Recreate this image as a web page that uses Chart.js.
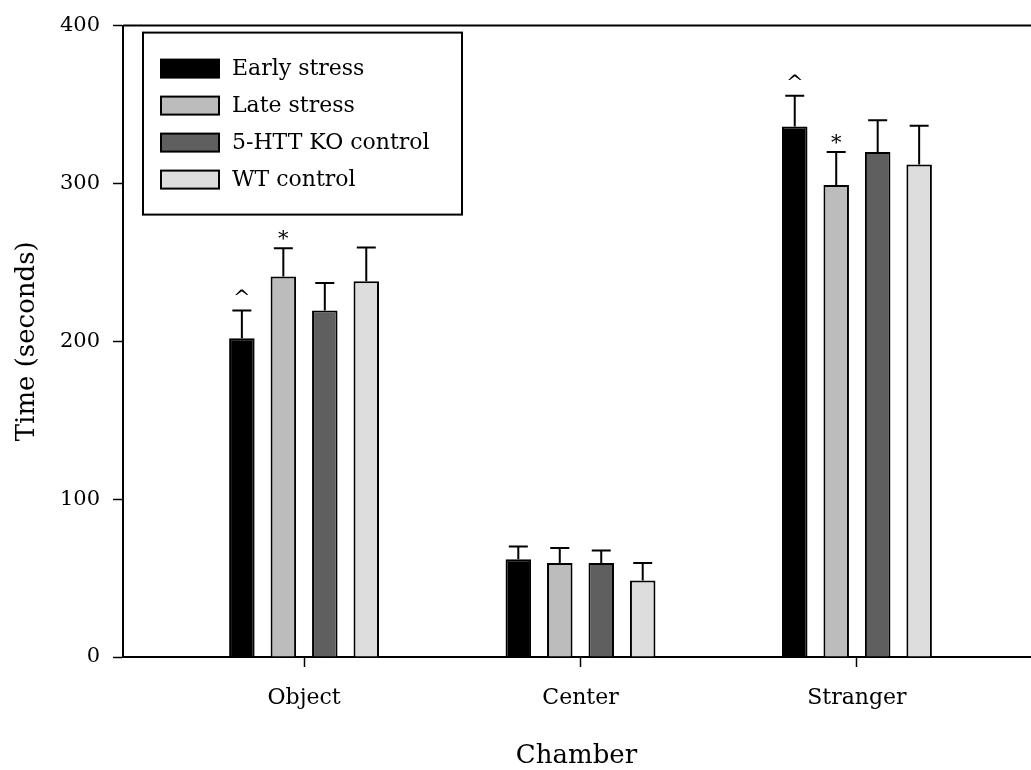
<!DOCTYPE html>
<html>
<head>
<meta charset="utf-8">
<script src="https://cdn.jsdelivr.net/npm/chart.js@4/dist/chart.umd.min.js"></script>
<style>
  body { margin: 0; background: #fff; }
  #wrap { width: 1031px; height: 770px; position: relative; }
</style>
</head>
<body>
<div id="wrap"><canvas id="chart"></canvas></div>
<script>
// chamber categories (x axis)
var chambers = ["Object", "Center", "Stranger"];

// mean time in each chamber (seconds)
var earlyStress = [202, 62, 336];
var lateStress = [241, 59.5, 299];
var koControl = [219.5, 59.5, 320];
var wtControl = [238, 48.5, 312];

// upper error (SEM)
var earlyErr = [17.5, 8, 19.5];
var lateErr = [18, 9.5, 21];
var koErr = [17.5, 8, 20];
var wtErr = [21.5, 11, 24.5];

var seriesNames = ["Early stress", "Late stress", "5-HTT KO control", "WT control"];
var seriesColors = ["#000000", "#bcbcbc", "#5f5f5f", "#dddddd"];

var yTicks = [0, 100, 200, 300, 400];

// significance marks: series index, chamber index, symbol
var marks = [
    { series: 0, chamber: 0, text: "^" },
    { series: 1, chamber: 0, text: "*" },
    { series: 0, chamber: 2, text: "^" },
    { series: 1, chamber: 2, text: "*" }
];

var serif = "'DejaVu Serif', 'Liberation Serif', serif";

function toPoints(values) {
    return values.map(function (v, i) { return { x: i, y: v }; });
}

var allValues = [earlyStress, lateStress, koControl, wtControl];
var allErrors = [earlyErr, lateErr, koErr, wtErr];

var datasets = allValues.map(function (vals, k) {
    return {
        label: seriesNames[k],
        data: toPoints(vals),
        errors: allErrors[k],
        backgroundColor: seriesColors[k],
        borderColor: "#000",
        borderWidth: 2,
        categoryPercentage: 0.6,
        barPercentage: 0.615
    };
});

var errorBars = {
    id: "errorBars",
    afterDatasetsDraw: function (chart) {
        var ctx = chart.ctx;
        var y = chart.scales.y;
        ctx.save();
        ctx.strokeStyle = "#000";
        ctx.lineWidth = 2;
        chart.data.datasets.forEach(function (ds, k) {
            var meta = chart.getDatasetMeta(k);
            meta.data.forEach(function (bar, i) {
                var top = y.getPixelForValue(ds.data[i].y + ds.errors[i]);
                ctx.beginPath();
                ctx.moveTo(bar.x, bar.y);
                ctx.lineTo(bar.x, top);
                ctx.moveTo(bar.x - 9.5, top);
                ctx.lineTo(bar.x + 9.5, top);
                ctx.stroke();
            });
        });
        // significance symbols
        ctx.fillStyle = "#000";
        ctx.font = "21px " + serif;
        ctx.textAlign = "center";
        ctx.textBaseline = "alphabetic";
        marks.forEach(function (m) {
            var ds = chart.data.datasets[m.series];
            var bar = chart.getDatasetMeta(m.series).data[m.chamber];
            var top = y.getPixelForValue(ds.data[m.chamber].y + ds.errors[m.chamber]);
            ctx.fillText(m.text, bar.x, top - (m.text === "^" ? 7 : 3));
        });
        ctx.restore();
    }
};

var frame = {
    id: "frame",
    afterDraw: function (chart) {
        var ctx = chart.ctx;
        var a = chart.chartArea;
        ctx.save();
        ctx.strokeStyle = "#000";
        ctx.lineWidth = 2;
        ctx.beginPath();
        ctx.moveTo(a.left, a.top);
        ctx.lineTo(chart.width, a.top);
        ctx.stroke();

        // legend box
        var bx = a.left + 20, by = a.top + 7, bw = 319, bh = 182;
        ctx.fillStyle = "#fff";
        ctx.fillRect(bx, by, bw, bh);
        ctx.strokeRect(bx, by, bw, bh);
        ctx.font = "22px " + serif;
        ctx.textAlign = "left";
        ctx.textBaseline = "middle";
        chart.data.datasets.forEach(function (ds, k) {
            var cy = by + 36 + k * 37;
            ctx.fillStyle = ds.backgroundColor;
            ctx.fillRect(bx + 18, cy - 9, 58, 18);
            ctx.lineWidth = 2;
            ctx.strokeRect(bx + 18, cy - 9, 58, 18);
            ctx.fillStyle = "#000";
            ctx.fillText(ds.label, bx + 89, cy + 1);
        });
        ctx.restore();
    }
};

new Chart(document.getElementById("chart"), {
    type: "bar",
    data: { datasets: datasets },
    plugins: [errorBars, frame],
    options: {
        responsive: true,
        maintainAspectRatio: false,
        animation: false,
        layout: { padding: { top: 18, right: 1, left: 0, bottom: 0 } },
        plugins: {
            legend: { display: false },
            tooltip: { enabled: false }
        },
        scales: {
            x: {
                type: "linear",
                offset: false,
                min: -0.655,
                max: 2.626,
                afterBuildTicks: function (scale) {
                    scale.ticks = chambers.map(function (c, i) { return { value: i }; });
                },
                afterFit: function (scale) { scale.height = 113; },
                ticks: {
                    color: "#000",
                    font: { family: serif, size: 22 },
                    padding: 18,
                    maxRotation: 0,
                    callback: function (v) { return chambers[v]; }
                },
                grid: {
                    offset: false,
                    drawOnChartArea: false,
                    tickLength: 10,
                    tickWidth: 1.5,
                    tickColor: "#000"
                },
                border: { color: "#000", width: 2 },
                title: {
                    display: true,
                    text: "Chamber",
                    color: "#000",
                    font: { family: serif, size: 26, lineHeight: 1 },
                    padding: { top: 0, bottom: 1 }
                }
            },
            y: {
                min: 0,
                max: 400,
                afterBuildTicks: function (scale) {
                    scale.ticks = yTicks.map(function (v) { return { value: v }; });
                },
                afterFit: function (scale) { scale.width = 123; },
                ticks: {
                    color: "#000",
                    font: { family: serif, size: 21 },
                    padding: 13
                },
                grid: {
                    drawOnChartArea: false,
                    tickLength: 10,
                    tickWidth: 1.5,
                    tickColor: "#000"
                },
                border: { color: "#000", width: 2 },
                title: {
                    display: true,
                    text: "Time (seconds)",
                    color: "#000",
                    font: { family: serif, size: 26, lineHeight: 1 },
                    padding: { top: 14, bottom: 0 }
                }
            }
        }
    }
});
</script>
</body>
</html>
